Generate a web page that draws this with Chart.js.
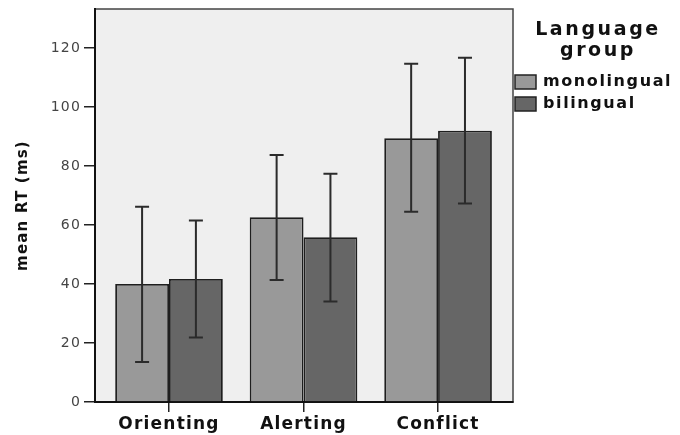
<!DOCTYPE html>
<html>
<head>
<meta charset="utf-8">
<script src="https://cdn.jsdelivr.net/npm/chart.js@4.4.0/dist/chart.umd.min.js"></script>
<style>
  html, body { margin: 0; padding: 0; background: #fff; }
  #wrap { width: 680px; height: 435px; }
</style>
</head>
<body>
<div id="wrap"><canvas id="c" width="680" height="435"></canvas></div>
<script>
// values
const categories = ["Orienting", "Alerting", "Conflict"];
const seriesNames = ["monolingual", "bilingual"];
const monoMean = [40.0, 62.7, 89.5];
const biMean   = [41.7, 55.9, 92.0];
const monoLow  = [13.6, 41.4, 64.5];
const monoHigh = [66.2, 83.8, 114.7];
const biLow    = [21.9, 34.1, 67.3];
const biHigh   = [61.6, 77.4, 116.8];
const yTicks = [0, 20, 40, 60, 80, 100, 120];
const yMax = 133.3;
const legendTitle = ["Language", "group"];

Chart.defaults.font.family = "'DejaVu Sans', sans-serif";

function toPoints(vals){
  return vals.map((v, i) => ({ x: i + 1, y: v }));
}

// grey panel + thin frame behind the bars
const panel = {
  id: "panel",
  beforeDraw(chart){
    const { ctx, chartArea: a } = chart;
    ctx.save();
    ctx.fillStyle = "#efefef";
    ctx.fillRect(a.left, a.top, a.right - a.left, a.bottom - a.top);
    ctx.strokeStyle = "#444";
    ctx.lineWidth = 1.5;
    ctx.strokeRect(a.left, a.top, a.right - a.left, a.bottom - a.top);
    ctx.restore();
    ctx.letterSpacing = "1.2px";
  }
};

const errorBars = {
  id: "errorBars",
  afterDatasetsDraw(chart){
    const ctx = chart.ctx, y = chart.scales.y;
    chart.data.datasets.forEach((ds, di) => {
      const meta = chart.getDatasetMeta(di);
      meta.data.forEach((bar, i) => {
        const top = y.getPixelForValue(ds.errHigh[i]);
        const bot = y.getPixelForValue(ds.errLow[i]);
        ctx.save();
        ctx.strokeStyle = "#2b2b2b";
        ctx.lineWidth = 2;
        ctx.beginPath();
        ctx.moveTo(bar.x, top); ctx.lineTo(bar.x, bot);
        ctx.moveTo(bar.x - 7, top); ctx.lineTo(bar.x + 7, top);
        ctx.moveTo(bar.x - 7, bot); ctx.lineTo(bar.x + 7, bot);
        ctx.stroke();
        ctx.restore();
      });
    });
  }
};

// legend on the right, SPSS style
const sideLegend = {
  id: "sideLegend",
  afterDraw(chart){
    const ctx = chart.ctx;
    ctx.save();
    ctx.fillStyle = "#111";
    ctx.textAlign = "center";
    ctx.textBaseline = "middle";
    ctx.font = "bold 19px 'DejaVu Sans'";
    ctx.letterSpacing = "2.6px";
    legendTitle.forEach((t, k) => ctx.fillText(t, 598, 30 + k * 21));
    ctx.font = "bold 16px 'DejaVu Sans'";
    ctx.letterSpacing = "1.6px";
    ctx.textAlign = "left";
    chart.data.datasets.forEach((ds, k) => {
      const by = 75 + k * 22;
      ctx.fillStyle = ds.backgroundColor;
      ctx.fillRect(515, by, 21, 14);
      ctx.strokeStyle = "#222";
      ctx.lineWidth = 1.5;
      ctx.strokeRect(515, by, 21, 14);
      ctx.fillStyle = "#111";
      ctx.fillText(ds.label, 543, by + 7);
    });
    ctx.restore();
  }
};

new Chart(document.getElementById("c"), {
  type: "bar",
  data: {
    datasets: [
      { label: seriesNames[0], data: toPoints(monoMean), errLow: monoLow, errHigh: monoHigh,
        backgroundColor: "#999999", borderColor: "#1e1e1e", borderWidth: 1.8 },
      { label: seriesNames[1], data: toPoints(biMean), errLow: biLow, errHigh: biHigh,
        backgroundColor: "#666666", borderColor: "#1e1e1e", borderWidth: 1.8 }
    ]
  },
  options: {
    responsive: false,
    animation: false,
    devicePixelRatio: 1,
    layout: { padding: { left: 14, top: 9, right: 167, bottom: 0 } },
    datasets: { bar: { categoryPercentage: 0.8, barPercentage: 1.0 } },
    plugins: { legend: { display: false }, tooltip: { enabled: false } },
    scales: {
      x: {
        type: "linear",
        min: 0.45, max: 3.557,
        bounds: "data",
        offset: false,
        grid: { offset: false, drawOnChartArea: false, drawTicks: true, tickLength: 10, color: "#222", lineWidth: 1.5 },
        border: { display: true, color: "#111", width: 2 },
        afterBuildTicks: s => { s.ticks = categories.map((c, i) => ({ value: i + 1 })); },
        afterFit: s => { s.height = 33; s.paddingLeft = 0; s.paddingRight = 0; },
        ticks: {
          autoSkip: false, maxRotation: 0, padding: 2, color: "#111",
          font: { size: 17, weight: "bold" },
          callback: v => categories[v - 1]
        }
      },
      y: {
        min: 0, max: yMax,
        grid: { drawOnChartArea: false, drawTicks: true, tickLength: 11, color: "#222", lineWidth: 1.5 },
        border: { display: true, color: "#111", width: 2 },
        afterBuildTicks: s => { s.ticks = yTicks.map(v => ({ value: v })); },
        afterFit: s => { s.width = 81; s.paddingTop = 0; s.paddingBottom = 0; },
        ticks: { padding: 3, color: "#444", font: { size: 14 } },
        title: { display: true, text: "mean RT (ms)", color: "#111", padding: 0,
                 font: { size: 15, weight: "bold" } }
      }
    }
  },
  plugins: [panel, errorBars, sideLegend]
});
</script>
</body>
</html>
